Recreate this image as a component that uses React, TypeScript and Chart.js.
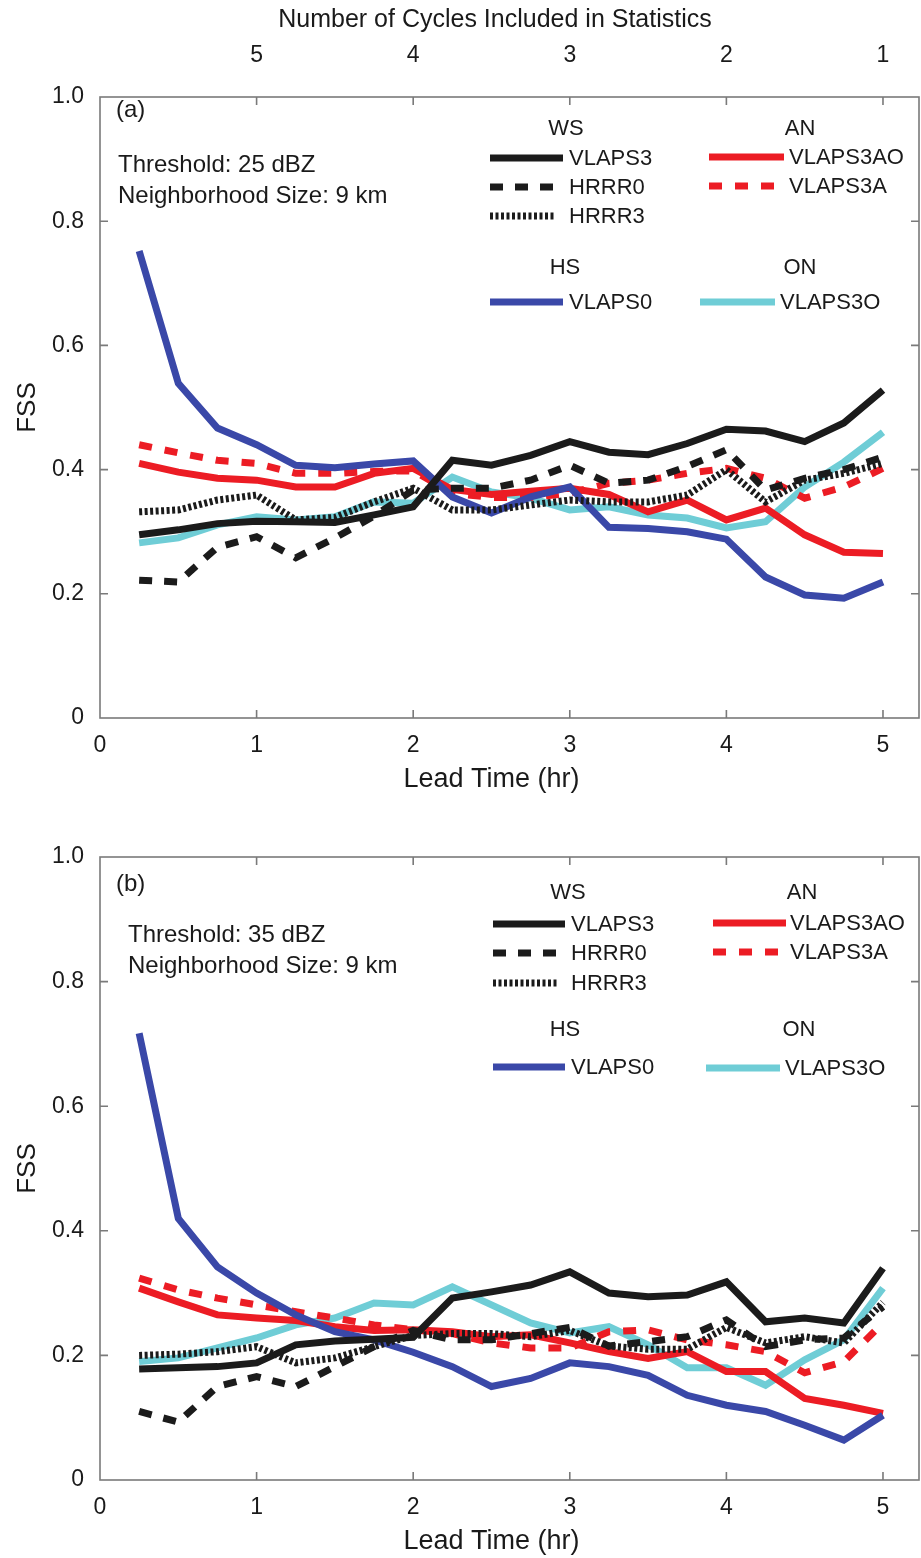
import React, { useEffect, useRef } from "react";
import { Chart, registerables } from "chart.js";

Chart.register(...registerables);

// ---------------- data ----------------
const leadTimes = [0.25, 0.5, 0.75, 1, 1.25, 1.5, 1.75, 2, 2.25, 2.5, 2.75, 3, 3.25, 3.5, 3.75, 4, 4.25, 4.5, 4.75, 5];
const cycleTickPositions = [1, 2, 3, 4, 5];
const cycleTickLabels = ["5", "4", "3", "2", "1"];
const yTickLabels = ["0", "0.2", "0.4", "0.6", "0.8", "1.0"];

// Panel (a): threshold 25 dBZ
const a_VLAPS3 = [0.295, 0.303, 0.313, 0.317, 0.316, 0.315, 0.327, 0.34, 0.415, 0.407, 0.423, 0.445, 0.428, 0.424, 0.442, 0.465, 0.462, 0.445, 0.475, 0.528];
const a_HRRR0 = [0.222, 0.219, 0.275, 0.292, 0.258, 0.29, 0.325, 0.367, 0.37, 0.37, 0.383, 0.407, 0.378, 0.383, 0.405, 0.432, 0.367, 0.386, 0.4, 0.42];
const a_HRRR3 = [0.332, 0.335, 0.351, 0.359, 0.319, 0.323, 0.348, 0.37, 0.335, 0.335, 0.343, 0.351, 0.348, 0.348, 0.359, 0.4, 0.348, 0.383, 0.394, 0.41];
const a_VLAPS0 = [0.752, 0.539, 0.467, 0.44, 0.407, 0.403, 0.409, 0.414, 0.356, 0.33, 0.356, 0.372, 0.307, 0.305, 0.3, 0.288, 0.227, 0.198, 0.193, 0.219];
const a_VLAPS3AO = [0.41, 0.396, 0.386, 0.383, 0.372, 0.372, 0.394, 0.402, 0.368, 0.36, 0.365, 0.37, 0.36, 0.332, 0.351, 0.319, 0.338, 0.295, 0.267, 0.265];
const a_VLAPS3A = [0.44, 0.427, 0.415, 0.41, 0.394, 0.394, 0.397, 0.398, 0.362, 0.355, 0.355, 0.362, 0.378, 0.383, 0.394, 0.402, 0.386, 0.354, 0.372, 0.402];
const a_VLAPS3O = [0.282, 0.29, 0.311, 0.324, 0.319, 0.324, 0.348, 0.346, 0.388, 0.364, 0.354, 0.335, 0.34, 0.327, 0.322, 0.306, 0.316, 0.372, 0.412, 0.46];

// Panel (b): threshold 35 dBZ
const b_VLAPS3 = [0.178, 0.18, 0.182, 0.188, 0.217, 0.223, 0.226, 0.229, 0.292, 0.302, 0.313, 0.334, 0.3, 0.294, 0.297, 0.318, 0.254, 0.26, 0.252, 0.34];
const b_HRRR0 = [0.11, 0.093, 0.15, 0.166, 0.15, 0.182, 0.214, 0.24, 0.225, 0.225, 0.235, 0.245, 0.215, 0.222, 0.23, 0.257, 0.214, 0.225, 0.228, 0.278];
const b_HRRR3 = [0.2, 0.202, 0.206, 0.214, 0.188, 0.196, 0.214, 0.232, 0.235, 0.235, 0.23, 0.24, 0.215, 0.21, 0.21, 0.245, 0.22, 0.23, 0.22, 0.285];
const b_VLAPS0 = [0.717, 0.42, 0.342, 0.3, 0.265, 0.238, 0.225, 0.205, 0.182, 0.15, 0.163, 0.188, 0.182, 0.168, 0.136, 0.12, 0.11, 0.088, 0.064, 0.104];
const b_VLAPS3AO = [0.308, 0.286, 0.265, 0.26, 0.256, 0.246, 0.24, 0.241, 0.238, 0.23, 0.233, 0.22, 0.206, 0.195, 0.206, 0.174, 0.174, 0.131, 0.12, 0.107];
const b_VLAPS3A = [0.324, 0.305, 0.292, 0.281, 0.27, 0.26, 0.249, 0.241, 0.235, 0.22, 0.212, 0.212, 0.238, 0.241, 0.225, 0.217, 0.206, 0.172, 0.19, 0.252];
const b_VLAPS3O = [0.19, 0.196, 0.212, 0.228, 0.249, 0.26, 0.284, 0.281, 0.31, 0.281, 0.252, 0.236, 0.246, 0.217, 0.18, 0.18, 0.152, 0.193, 0.225, 0.308];

// ---------------- styles ----------------
const FONT = "'Liberation Sans', Arial, Helvetica, sans-serif";
const BLACK = "#1b1b1b";
const RED = "#ec1c24";
const BLUE = "#3a48a8";
const CYAN = "#6fcdd6";
const FRAME = "#7a7a7a";
const LW = 7;

type Style = { color: string; dash: number[] };
const styles: Record<string, Style> = {
  VLAPS3: { color: BLACK, dash: [] },
  HRRR0: { color: BLACK, dash: [13, 12] },
  HRRR3: { color: BLACK, dash: [3, 2.5] },
  VLAPS0: { color: BLUE, dash: [] },
  VLAPS3AO: { color: RED, dash: [] },
  VLAPS3A: { color: RED, dash: [13, 13] },
  VLAPS3O: { color: CYAN, dash: [] },
};

type LegendLayout = {
  headers: { text: string; x: number; y: number }[];
  items: { name: string; x0: number; x1: number; y: number; tx: number }[];
};

type PanelCfg = {
  top: number;
  height: number;
  chartTop: number;
  chartBottom: number;
  series: Record<string, number[]>;
  tag: string;
  tagPos: [number, number];
  threshold: string;
  infoPos: [number, number, number];
  showTopTitle: boolean;
  legend: LegendLayout;
};

const panels: PanelCfg[] = [
  {
    top: 0,
    height: 800,
    chartTop: 97,
    chartBottom: 718,
    series: {
      VLAPS3: a_VLAPS3, HRRR0: a_HRRR0, HRRR3: a_HRRR3, VLAPS0: a_VLAPS0,
      VLAPS3AO: a_VLAPS3AO, VLAPS3A: a_VLAPS3A, VLAPS3O: a_VLAPS3O,
    },
    tag: "(a)",
    tagPos: [116, 110],
    threshold: "Threshold: 25 dBZ",
    infoPos: [118, 165, 196],
    showTopTitle: true,
    legend: {
      headers: [
        { text: "WS", x: 566, y: 129 },
        { text: "AN", x: 800, y: 129 },
        { text: "HS", x: 565, y: 268 },
        { text: "ON", x: 800, y: 268 },
      ],
      items: [
        { name: "VLAPS3", x0: 490, x1: 563, y: 158, tx: 569 },
        { name: "HRRR0", x0: 490, x1: 563, y: 187, tx: 569 },
        { name: "HRRR3", x0: 490, x1: 556, y: 216, tx: 569 },
        { name: "VLAPS3AO", x0: 709, x1: 784, y: 157, tx: 789 },
        { name: "VLAPS3A", x0: 709, x1: 784, y: 186, tx: 789 },
        { name: "VLAPS0", x0: 490, x1: 563, y: 302, tx: 569 },
        { name: "VLAPS3O", x0: 700, x1: 775, y: 302, tx: 780 },
      ],
    },
  },
  {
    top: 760,
    height: 798,
    chartTop: 97,
    chartBottom: 720,
    series: {
      VLAPS3: b_VLAPS3, HRRR0: b_HRRR0, HRRR3: b_HRRR3, VLAPS0: b_VLAPS0,
      VLAPS3AO: b_VLAPS3AO, VLAPS3A: b_VLAPS3A, VLAPS3O: b_VLAPS3O,
    },
    tag: "(b)",
    tagPos: [116, 124],
    threshold: "Threshold: 35 dBZ",
    infoPos: [128, 175, 206],
    showTopTitle: false,
    legend: {
      headers: [
        { text: "WS", x: 568, y: 133 },
        { text: "AN", x: 802, y: 133 },
        { text: "HS", x: 565, y: 270 },
        { text: "ON", x: 799, y: 270 },
      ],
      items: [
        { name: "VLAPS3", x0: 493, x1: 565, y: 164, tx: 571 },
        { name: "HRRR0", x0: 493, x1: 565, y: 193, tx: 571 },
        { name: "HRRR3", x0: 493, x1: 558, y: 223, tx: 571 },
        { name: "VLAPS3AO", x0: 713, x1: 786, y: 163, tx: 790 },
        { name: "VLAPS3A", x0: 713, x1: 786, y: 192, tx: 790 },
        { name: "VLAPS0", x0: 493, x1: 565, y: 307, tx: 571 },
        { name: "VLAPS3O", x0: 706, x1: 780, y: 308, tx: 785 },
      ],
    },
  },
];

const seriesOrder = ["VLAPS3", "HRRR0", "HRRR3", "VLAPS0", "VLAPS3AO", "VLAPS3A", "VLAPS3O"];

function Panel({ cfg }: { cfg: PanelCfg }) {
  const ref = useRef<HTMLCanvasElement | null>(null);

  useEffect(() => {
    const canvas = ref.current;
    if (!canvas) return;

    const decor = {
      id: "decor",
      afterDatasetsDraw(chart: any) {
        const ctx = chart.ctx as CanvasRenderingContext2D;
        const ca = chart.chartArea;
        const xs = chart.scales.x;
        const ys = chart.scales.y;
        ctx.save();
        // frame
        ctx.strokeStyle = FRAME;
        ctx.lineWidth = 1.6;
        ctx.setLineDash([]);
        ctx.strokeRect(ca.left, ca.top, ca.right - ca.left, ca.bottom - ca.top);
        // inward ticks
        const TL = 8;
        ctx.beginPath();
        for (const v of cycleTickPositions) {
          const px = xs.getPixelForValue(v);
          ctx.moveTo(px, ca.bottom);
          ctx.lineTo(px, ca.bottom - TL);
          ctx.moveTo(px, ca.top);
          ctx.lineTo(px, ca.top + TL);
        }
        for (const t of ys.ticks) {
          if (t.value <= 0 || t.value >= 1) continue;
          const py = ys.getPixelForValue(t.value);
          ctx.moveTo(ca.left, py);
          ctx.lineTo(ca.left + TL, py);
          ctx.moveTo(ca.right, py);
          ctx.lineTo(ca.right - TL, py);
        }
        ctx.stroke();

        // texts
        ctx.fillStyle = "#1a1a1a";
        ctx.textBaseline = "middle";
        ctx.textAlign = "left";
        ctx.font = `24px ${FONT}`;
        ctx.fillText(cfg.tag, cfg.tagPos[0], cfg.tagPos[1]);
        ctx.fillText(cfg.threshold, cfg.infoPos[0], cfg.infoPos[1]);
        ctx.fillText("Neighborhood Size: 9 km", cfg.infoPos[0], cfg.infoPos[2]);

        // axis titles
        ctx.textAlign = "center";
        ctx.font = `27px ${FONT}`;
        ctx.fillText("Lead Time (hr)", (ca.left + xs.getPixelForValue(5)) / 2, ca.bottom + 62);
        if (cfg.showTopTitle) {
          ctx.font = `25px ${FONT}`;
          ctx.fillText("Number of Cycles Included in Statistics", 495, 20);
        }
        ctx.font = `26px ${FONT}`;
        ctx.save();
        ctx.translate(28, (ca.top + ca.bottom) / 2);
        ctx.rotate(-Math.PI / 2);
        ctx.fillText("FSS", 0, 0);
        ctx.restore();

        // legend
        ctx.font = `22px ${FONT}`;
        ctx.textAlign = "center";
        for (const h of cfg.legend.headers) ctx.fillText(h.text, h.x, h.y);
        ctx.textAlign = "left";
        for (const it of cfg.legend.items) {
          const st = styles[it.name];
          ctx.strokeStyle = st.color;
          ctx.lineWidth = LW;
          ctx.lineCap = "butt";
          ctx.setLineDash(st.dash);
          ctx.beginPath();
          ctx.moveTo(it.x0, it.y);
          ctx.lineTo(it.x1, it.y);
          ctx.stroke();
          ctx.setLineDash([]);
          ctx.fillStyle = "#1a1a1a";
          ctx.fillText(it.name, it.tx, it.y + 1);
        }
        ctx.restore();
      },
    };

    const datasets = seriesOrder.map((name) => ({
      label: name,
      data: leadTimes.map((t, i) => ({ x: t, y: cfg.series[name][i] })),
      borderColor: styles[name].color,
      backgroundColor: styles[name].color,
      borderWidth: LW,
      borderDash: styles[name].dash,
      borderCapStyle: "butt" as const,
      borderJoinStyle: "miter" as const,
      pointRadius: 0,
      fill: false,
      tension: 0,
    }));

    const tickFont = { family: FONT, size: 23 };
    const chart = new Chart(canvas, {
      type: "line",
      data: { datasets },
      options: {
        animation: false,
        responsive: false,
        devicePixelRatio: 1,
        layout: { padding: { left: 0, right: 2, top: 0, bottom: 0 } },
        plugins: { legend: { display: false }, tooltip: { enabled: false }, title: { display: false } },
        scales: {
          x: {
            type: "linear",
            position: "bottom",
            min: 0,
            max: 5.23,
            grid: { display: false, drawTicks: false },
            border: { display: false },
            ticks: {
              stepSize: 1,
              padding: 14,
              color: "#1a1a1a",
              font: tickFont,
              maxRotation: 0,
              autoSkip: false,
              callback: (v: any) => String(v),
            },
            afterBuildTicks: (s: any) => {
              s.ticks = [0, 1, 2, 3, 4, 5].map((v) => ({ value: v }));
            },
            afterFit: (s: any) => {
              s.height = cfg.height - cfg.chartBottom;
            },
          },
          x2: {
            type: "linear",
            position: "top",
            min: 0,
            max: 5.23,
            grid: { display: false, drawTicks: false },
            border: { display: false },
            ticks: {
              padding: 28,
              color: cfg.showTopTitle ? "#1a1a1a" : "rgba(0,0,0,0)",
              font: tickFont,
              maxRotation: 0,
              autoSkip: false,
              callback: (v: any) => {
                const i = cycleTickPositions.indexOf(v);
                return i >= 0 ? cycleTickLabels[i] : "";
              },
            },
            afterBuildTicks: (s: any) => {
              s.ticks = cycleTickPositions.map((v) => ({ value: v }));
            },
            afterFit: (s: any) => {
              s.height = cfg.chartTop;
            },
          },
          y: {
            type: "linear",
            min: 0,
            max: 1,
            grid: { display: false, drawTicks: false },
            border: { display: false },
            ticks: {
              stepSize: 0.2,
              padding: 16,
              color: "#1a1a1a",
              font: tickFont,
              callback: (v: any) => yTickLabels[Math.round(Number(v) * 5)],
            },
            afterFit: (s: any) => {
              s.width = 100;
            },
          },
        },
      },
      plugins: [decor],
    });
    return () => chart.destroy();
  }, [cfg]);

  return (
    <canvas
      ref={ref}
      width={921}
      height={cfg.height}
      style={{ position: "absolute", left: 0, top: cfg.top, width: 921, height: cfg.height }}
    />
  );
}

export default function App() {
  return (
    <div style={{ position: "absolute", left: 0, top: 0, width: 921, height: 1558, background: "#fff" }}>
      {panels.map((p, i) => (
        <Panel key={i} cfg={p} />
      ))}
    </div>
  );
}
